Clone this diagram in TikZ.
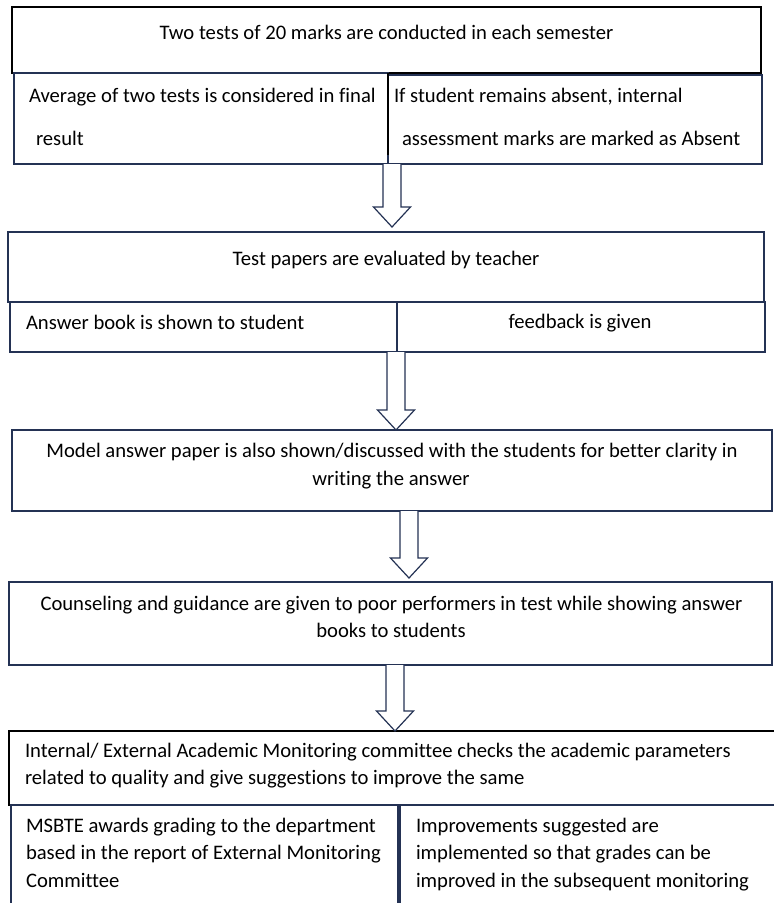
\documentclass[tikz,border=0pt]{standalone}
\usepackage{fontspec}
\setmainfont{Carlito}[Ligatures=NoCommon]
\usetikzlibrary{calc}
\definecolor{navy}{RGB}{36,50,84}
\tikzset{
  box/.style={draw=navy, line width=1.3pt, rectangle, inner sep=0pt, outer sep=0pt, anchor=north west},
  blackbox/.style={box, draw=black},
  txt/.style={inner sep=0pt, outer sep=0pt, font=\fontsize{20.65}{27}\selectfont, text=black},
  lt/.style={txt, anchor=base west},
  ct/.style={txt, anchor=base},
  blockarrow/.style={draw=navy, line width=1.2pt, fill=white, line join=miter},
}
% block arrow: #1 = top of the shaft, #2 = tip
\newcommand\flowarrow[2]{%
  \draw[blockarrow] ([xshift=-9pt]#1) -- ([xshift=-9pt,yshift=20pt]#2)
    -- ([xshift=-18.5pt,yshift=20pt]#2) -- (#2)
    -- ([xshift=18.5pt,yshift=20pt]#2) -- ([xshift=9pt,yshift=20pt]#2)
    -- ([xshift=9pt]#1);}
\begin{document}
\begin{tikzpicture}[x=1pt,y=-1pt]
\useasboundingbox (0,0) rectangle (774,903);
\fill[white] (0,0) rectangle (774,903);

% stage 1: tests
\node[blackbox, minimum width=749pt, minimum height=66pt] (t1) at (12,7) {};
\node[box, minimum width=374pt, minimum height=91pt] (t1a) at (14,73) {};
\node[box, minimum width=374pt, minimum height=89pt] (t1b) at (388,75) {};
\draw[black, line width=2.4pt] (t1a.north east) -- ([yshift=9pt]t1a.south east);
\node[ct] (t1l1) at (386.5,39) {Two tests of 20 marks are conducted in each semester};
\node[lt] (t1al1) at (29,102) {Average of two tests is considered in final};
\node[lt] (t1al2) at (36,145) {result};
\node[lt] (t1bl1) at (394,102) {If student remains absent, internal};
\node[lt] (t1bl2) at (402,145) {assessment marks are marked as Absent};

% stage 2: evaluation
\node[box, minimum width=756pt, minimum height=70pt] (t2) at (8,232) {};
\node[box, minimum width=387pt, minimum height=50pt] (t2a) at (10,302) {};
\node[box, minimum width=368pt, minimum height=50pt] (t2b) at (397,302) {};
\node[ct] (t2l1) at (386,265) {Test papers are evaluated by teacher};
\node[lt] (t2al1) at (26,329) {Answer book is shown to student};
\node[ct] (t2bl1) at (580,328) {feedback is given};

% stage 3: model answers
\node[box, minimum width=760pt, minimum height=81pt] (t3) at (12,430) {};
\node[ct] (t3l1) at (392,457) {Model answer paper is also shown/discussed with the students for better clarity in};
\node[ct] (t3l2) at (391,485) {writing the answer};

% stage 4: counseling
\node[box, minimum width=763pt, minimum height=83pt] (t4) at (9,582) {};
\node[ct] (t4l1) at (391.5,610) {Counseling and guidance are given to poor performers in test while showing answer};
\node[ct] (t4l2) at (391,637) {books to students};

% stage 5: monitoring
\node[blackbox, minimum width=771pt, minimum height=74pt] (t5) at (9,731) {};
\node[box, minimum width=387pt, minimum height=110pt] (t5a) at (11,805) {};
\node[box, minimum width=380pt, minimum height=110pt] (t5b) at (400,805) {};
\node[lt] (t5l1) at (25,757) {Internal/ External Academic Monitoring committee checks the academic parameters};
\node[lt] (t5l2) at (25,784) {related to quality and give suggestions to improve the same};
\node[lt] (t5al1) at (26,832) {MSBTE awards grading to the department};
\node[lt] (t5al2) at (26,859) {based in the report of External Monitoring};
\node[lt] (t5al3) at (26,887) {Committee};
\node[lt] (t5bl1) at (416,832) {Improvements suggested are};
\node[lt] (t5bl2) at (416,859) {implemented so that grades can be};
\node[lt] (t5bl3) at (416,887) {improved in the subsequent monitoring};

% block arrows between stages
\coordinate (a1s) at ([xshift=4pt]t1a.south east);
\coordinate (a1e) at ([yshift=5pt]a1s |- t2.north);
\flowarrow{a1s}{a1e}
\coordinate (a2s) at ([xshift=-1pt]t2b.south west);
\coordinate (a2e) at (a2s |- t3.north);
\flowarrow{a2s}{a2e}
\coordinate (a3s) at ([xshift=397pt]t3.south west);
\coordinate (a3e) at ([yshift=4pt]a3s |- t4.north);
\flowarrow{a3s}{a3e}
\coordinate (a4s) at ([xshift=386pt]t4.south west);
\coordinate (a4e) at (a4s |- t5.north);
\flowarrow{a4s}{a4e}
\end{tikzpicture}
\end{document}
